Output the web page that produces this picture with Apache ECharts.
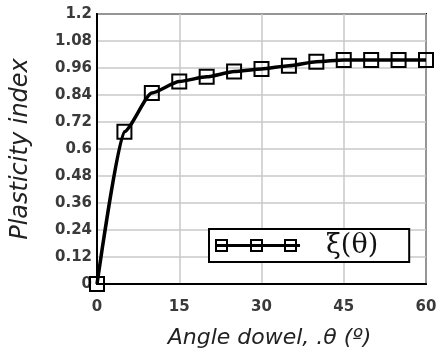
<!DOCTYPE html>
<html>
<head>
<meta charset="utf-8">
<script src="https://cdn.jsdelivr.net/npm/echarts@6/dist/echarts.min.js"></script>
<style>
html,body{margin:0;padding:0;background:#fff;}
#chart{width:443px;height:356px;}
</style>
</head>
<body>
<div id="chart"></div>
<script>
// plasticity index vs dowel angle
var angles=[0,5,10,15,20,25,30,35,40,45,50,55,60];
var plasticity=[0,0.677,0.849,0.900,0.921,0.944,0.956,0.970,0.988,0.996,0.996,0.996,0.996];
var xTicks=[0,15,30,45,60];
var yTicks=[0,0.12,0.24,0.36,0.48,0.6,0.72,0.84,0.96,1.08,1.2];
var seriesName="ξ(θ)";

var chart=echarts.init(document.getElementById("chart"));

// legend icon: line with three hollow squares
var legendIcon="path://M0 5.5H85V8.5H0Z"
    +"M0 0.5H13V13.5H0ZM2 2.5V11.5H11V2.5Z"
    +"M35 0.5H48V13.5H35ZM37 2.5V11.5H46V2.5Z"
    +"M69 0.5H82V13.5H69ZM71 2.5V11.5H80V2.5Z";

var data=[];
for(var i=0;i<angles.length;i++){
    data.push([angles[i],plasticity[i]]);
}

var option={
    animation:false,
    backgroundColor:"#fff",
    grid:{
        left:97,
        right:17,
        top:14,
        bottom:72,
        show:true,
        borderColor:"#000",
        borderWidth:2
    },
    legend:{
        data:[{name:seriesName,icon:legendIcon}],
        left:209,
        top:229,
        padding:[3,31,3,6],
        itemWidth:85,
        itemHeight:14,
        borderColor:"#000",
        borderWidth:2,
        backgroundColor:"#fff",
        itemStyle:{color:"#000",borderWidth:0},
        lineStyle:{width:0},
        textStyle:{
            color:"#111",
            fontSize:27,
            fontFamily:"DejaVu Serif",
            padding:[0,0,0,21]
        }
    },
    xAxis:{
        type:"value",
        min:xTicks[0],
        max:xTicks[xTicks.length-1],
        interval:xTicks[1]-xTicks[0],
        name:"Angle dowel, .θ (º)",
        nameLocation:"middle",
        nameGap:43,
        nameTextStyle:{
            color:"#222",
            fontSize:22,
            fontStyle:"italic",
            fontFamily:"DejaVu Sans",
            padding:[0,0,0,16]
        },
        axisLine:{lineStyle:{color:"#000",width:2}},
        axisTick:{show:false},
        axisLabel:{
            color:"#3a3a3a",
            fontSize:15,
            fontWeight:"bold",
            fontFamily:"DejaVu Sans",
            margin:16
        },
        splitLine:{show:true,lineStyle:{color:"#c8c8c8",width:1.5}}
    },
    yAxis:{
        type:"value",
        min:yTicks[0],
        max:yTicks[yTicks.length-1],
        interval:yTicks[1]-yTicks[0],
        name:"Plasticity index",
        nameLocation:"middle",
        nameGap:64,
        nameTextStyle:{
            color:"#222",
            fontSize:24,
            fontStyle:"italic",
            fontFamily:"DejaVu Sans"
        },
        axisLine:{show:true,lineStyle:{color:"#000",width:2}},
        axisTick:{show:false},
        axisLabel:{
            color:"#3a3a3a",
            fontSize:15,
            fontWeight:"bold",
            fontFamily:"DejaVu Sans",
            margin:5,
            formatter:function(v){
                return String(Math.round(v*100)/100);
            }
        },
        splitLine:{show:true,lineStyle:{color:"#c8c8c8",width:1.5}}
    },
    series:[{
        name:seriesName,
        type:"line",
        data:data,
        smooth:0.2,
        smoothMonotone:"x",
        symbol:"rect",
        symbolSize:14,
        lineStyle:{color:"#000",width:3.5},
        itemStyle:{color:"transparent",borderColor:"#000",borderWidth:2}
    }]
};
chart.setOption(option);
</script>
</body>
</html>
